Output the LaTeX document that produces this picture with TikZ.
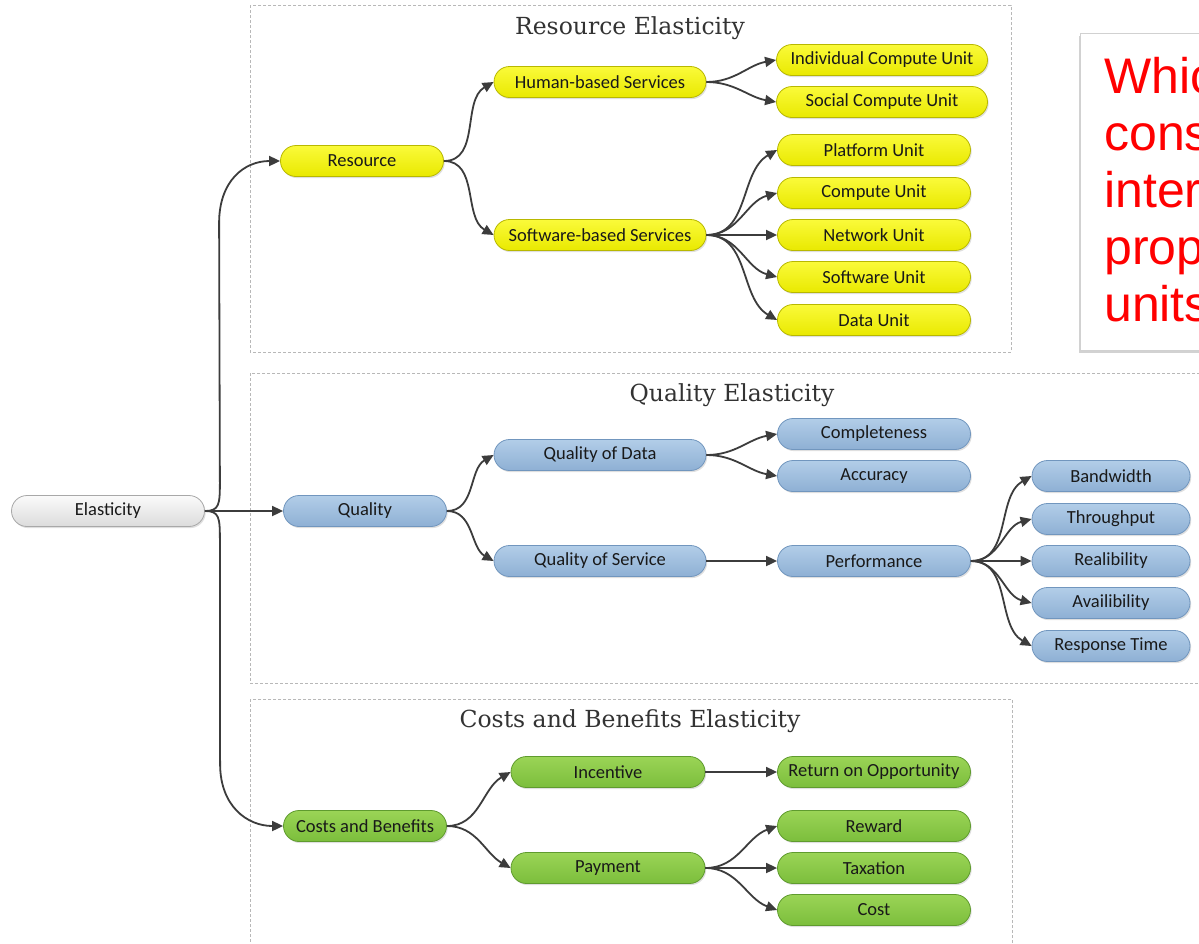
\documentclass[tikz,border=0pt]{standalone}
\usepackage{fontspec}
\setmainfont{Carlito}
\newfontfamily\titlefont{DejaVu Serif}
\newfontfamily\redfont{Liberation Sans}
\usetikzlibrary{arrows.meta,shadows,calc}
\definecolor{ytop}{HTML}{FAFA3A}
\definecolor{ybot}{HTML}{E9E900}
\definecolor{yline}{HTML}{B8B800}
\definecolor{btop}{HTML}{B2CDE8}
\definecolor{bbot}{HTML}{8EB0D4}
\definecolor{bline}{HTML}{7196BE}
\definecolor{gtop}{HTML}{9AD456}
\definecolor{gbot}{HTML}{7CBE3C}
\definecolor{gline}{HTML}{5F9B2E}
\definecolor{wtop}{HTML}{FAFAFA}
\definecolor{wbot}{HTML}{DCDCDC}
\definecolor{wline}{HTML}{A8A8A8}
\definecolor{arrowc}{HTML}{3C3C3C}
\definecolor{framec}{HTML}{B8B8B8}
\definecolor{titlec}{HTML}{333333}
\definecolor{redtext}{HTML}{FF0000}
\begin{document}
\begin{tikzpicture}[x=1pt,y=1pt,
  box/.style={rounded corners=15.5pt, minimum height=31pt, inner sep=0pt,
    font=\fontsize{18.5}{22}\selectfont, text=black!90, line width=0.8pt,
    drop shadow={shadow xshift=1.2pt,shadow yshift=-1.6pt,opacity=0.25}},
  ynode/.style={box, top color=ytop, bottom color=ybot, draw=yline},
  bnode/.style={box, top color=btop, bottom color=bbot, draw=bline},
  gnode/.style={box, top color=gtop, bottom color=gbot, draw=gline},
  wnode/.style={box, top color=wtop, bottom color=wbot, draw=wline},
  arr/.style={-{Triangle[length=11pt,width=10pt]}, line width=1.8pt, draw=arrowc},
  frame/.style={draw=framec, dash pattern=on 3pt off 2pt, line width=0.9pt},
  title/.style={font=\titlefont\fontsize{23.5}{28}\selectfont, text=titlec},
  redline/.style={anchor=base west, inner sep=0pt, text=redtext, font=\redfont\fontsize{50}{57}\selectfont}
]
\useasboundingbox (0,0) rectangle (1199,-943);
\fill[white] (0,0) rectangle (1199,-943);

% dashed frames
\draw[frame] (250,-5) rectangle (1011,-352);
\draw[frame] (250,-373) rectangle (1215,-683);
\draw[frame] (250,-699) rectangle (1012,-960);

% red callout
\path[fill=white, draw=black!18, line width=0.8pt,
  drop shadow={shadow xshift=-1.5pt,shadow yshift=-3pt,opacity=0.35}]
  (1080,-33) rectangle (1220,-350);
\node[redline] (l1) at (1104,-93) {Which};
\node[redline] (l2) at (1104,-150) {cons};
\node[redline] (l3) at (1104,-207) {inter};
\node[redline] (l4) at (1104,-264) {prop};
\node[redline] (l5) at (1104,-321) {units};

% titles
\node[title] (t1) at (630,-28) {Resource Elasticity};
\node[title] (t2) at (732,-395) {Quality Elasticity};
\node[title] (t3) at (630,-721) {Costs and Benefits Elasticity};

% nodes
\node[wnode, minimum width=193pt] (E) at (108,-511) {Elasticity};

\node[ynode, minimum width=163pt] (R) at (362,-161) {Resource};
\node[ynode, minimum width=212pt] (H) at (600,-82) {Human-based Services};
\node[ynode, minimum width=212pt] (S) at (600,-235) {Software-based Services};
\node[ynode, minimum width=211pt] (icu) at (882,-60) {Individual Compute Unit};
\node[ynode, minimum width=211pt] (scu) at (882,-102) {Social Compute Unit};
\node[ynode, minimum width=193pt] (pu) at (874,-150) {Platform Unit};
\node[ynode, minimum width=193pt] (cu) at (874,-193) {Compute Unit};
\node[ynode, minimum width=193pt] (nu) at (874,-235) {Network Unit};
\node[ynode, minimum width=193pt] (su) at (874,-277) {Software Unit};
\node[ynode, minimum width=193pt] (du) at (874,-320) {Data Unit};

\node[bnode, minimum width=163pt] (Q) at (365,-511) {Quality};
\node[bnode, minimum width=212pt] (QD) at (600,-455) {Quality of Data};
\node[bnode, minimum width=212pt] (QS) at (600,-561) {Quality of Service};
\node[bnode, minimum width=193pt] (cmp) at (874,-434) {Completeness};
\node[bnode, minimum width=193pt] (acc) at (874,-476) {Accuracy};
\node[bnode, minimum width=193pt] (perf) at (874,-561) {Performance};
\node[bnode, minimum width=158pt] (bw) at (1111,-476) {Bandwidth};
\node[bnode, minimum width=158pt] (tp) at (1111,-519) {Throughput};
\node[bnode, minimum width=158pt] (rel) at (1111,-561) {Realibility};
\node[bnode, minimum width=158pt] (av) at (1111,-603) {Availibility};
\node[bnode, minimum width=158pt] (rt) at (1111,-646) {Response Time};

\node[gnode, minimum width=163pt] (C) at (365,-826) {Costs and Benefits};
\node[gnode, minimum width=194pt] (inc) at (608,-772) {Incentive};
\node[gnode, minimum width=194pt] (pay) at (608,-868) {Payment};
\node[gnode, minimum width=193pt] (roo) at (874,-772) {Return on Opportunity};
\node[gnode, minimum width=193pt] (rew) at (874,-826) {Reward};
\node[gnode, minimum width=193pt] (tax) at (874,-868) {Taxation};
\node[gnode, minimum width=193pt] (cost) at (874,-910) {Cost};

% connectors from Elasticity
\draw[arr] (E.east) .. controls +(14,0) and +(0,-22) .. ($(E.east)+(15,28)$)
  -- ($(R.west)+(-61,-62)$) .. controls +(0,42) and +(-36,0) .. (R.west);
\draw[arr] (E.east) -- (Q.west);
\draw[arr] (E.east) .. controls +(14,0) and +(0,22) .. ($(E.east)+(15,-28)$)
  -- ($(C.west)+(-63,62)$) .. controls +(0,-42) and +(-36,0) .. (C.west);

% resource
\draw[arr] (R.east) to[out=0,in=210] (H.west);
\draw[arr] (R.east) to[out=0,in=150] (S.west);
\draw[arr] (H.east) to[out=0,in=190] (icu.west);
\draw[arr] (H.east) to[out=0,in=170] (scu.west);
\draw[arr] (S.east) to[out=0,in=210] (pu.west);
\draw[arr] (S.east) to[out=0,in=195] (cu.west);
\draw[arr] (S.east) -- (nu.west);
\draw[arr] (S.east) to[out=0,in=165] (su.west);
\draw[arr] (S.east) to[out=0,in=150] (du.west);

% quality
\draw[arr] (Q.east) to[out=0,in=210] (QD.west);
\draw[arr] (Q.east) to[out=0,in=150] (QS.west);
\draw[arr] (QD.east) to[out=0,in=190] (cmp.west);
\draw[arr] (QD.east) to[out=0,in=170] (acc.west);
\draw[arr] (QS.east) -- (perf.west);
\draw[arr] (perf.east) to[out=0,in=210] (bw.west);
\draw[arr] (perf.east) to[out=0,in=195] (tp.west);
\draw[arr] (perf.east) -- (rel.west);
\draw[arr] (perf.east) to[out=0,in=165] (av.west);
\draw[arr] (perf.east) to[out=0,in=150] (rt.west);

% costs
\draw[arr] (C.east) to[out=0,in=210] (inc.west);
\draw[arr] (C.east) to[out=0,in=150] (pay.west);
\draw[arr] (inc.east) -- (roo.west);
\draw[arr] (pay.east) to[out=0,in=200] (rew.west);
\draw[arr] (pay.east) -- (tax.west);
\draw[arr] (pay.east) to[out=0,in=160] (cost.west);
\end{tikzpicture}
\end{document}
